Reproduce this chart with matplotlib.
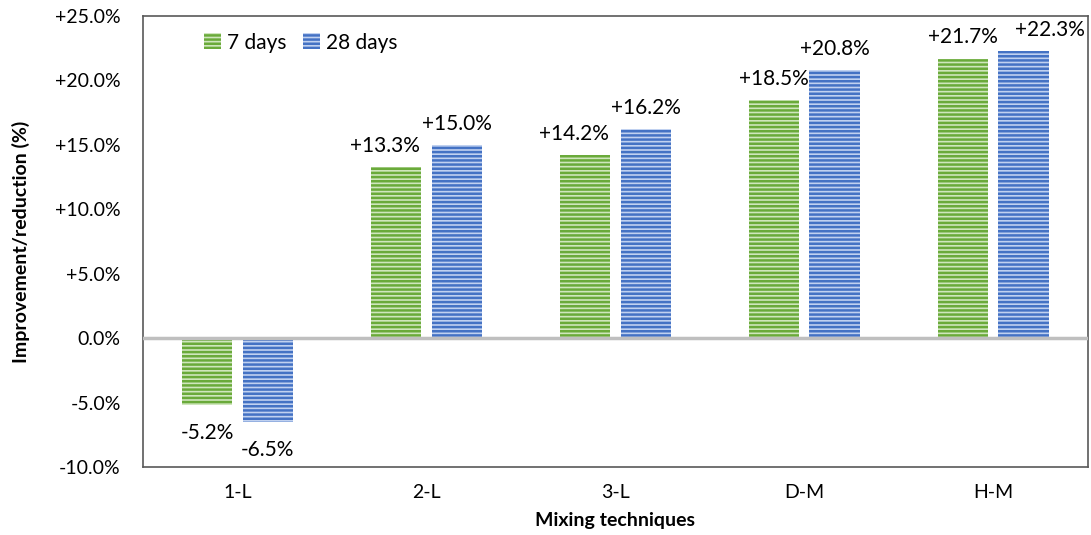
import numpy as np
import matplotlib.pyplot as plt
import matplotlib as mpl

plt.rcParams['font.family'] = ['Lato', 'DejaVu Sans']
mpl.rcParams['hatch.linewidth'] = 1.8

# data
techniques = ['1-L', '2-L', '3-L', 'D-M', 'H-M']
days7 = [-5.2, 13.3, 14.2, 18.5, 21.7]
days28 = [-6.5, 15.0, 16.2, 20.8, 22.3]
yticks = [-10, -5, 0, 5, 10, 15, 20, 25]

# label nudges (points), like the original chart
nudge7 = [0, -8, -8, 0, 0]
nudge28 = [0, 0, 0, 0, 19]

x = np.arange(len(techniques))
w = 0.265
off = 0.16

fig = plt.figure(figsize=(10.91, 5.35), dpi=100)
ax = fig.add_axes([0.131, 0.127, 0.866, 0.843])

ax.bar(x - off, days7, w, color='#cfe6bd', edgecolor='#6aaa3a', linewidth=0,
       hatch='----', label='7 days')
ax.bar(x + off, days28, w, color='#c0d1f0', edgecolor='#4472c4', linewidth=0,
       hatch='----', label='28 days')

def fmt(v):
    return ('+%.1f%%' % v) if v > 0 else ('%.1f%%' % v)

def put_labels(xs, vals, nudges):
    for xi, v, dx in zip(xs, vals, nudges):
        if v > 0:
            ax.annotate(fmt(v), (xi, v), xytext=(dx, 8), textcoords='offset points',
                        ha='center', va='bottom', fontsize=15)
        else:
            ax.annotate(fmt(v), (xi, v), xytext=(dx, -13), textcoords='offset points',
                        ha='center', va='top', fontsize=15)

put_labels(x - off, days7, nudge7)
put_labels(x + off, days28, nudge28)

ax.axhline(0, color='#bfbfbf', linewidth=2.5, zorder=3)
ax.set_ylim(-10, 25)
ax.set_xlim(-0.5, 4.5)
ax.set_yticks(yticks)
ax.set_yticklabels([fmt(t) if t != 0 else '0.0%' for t in yticks], fontsize=14)
ax.set_xticks(x)
ax.set_xticklabels(techniques, fontsize=14)
ax.tick_params(axis='y', length=0, pad=16)
ax.tick_params(axis='x', length=0, pad=12)
for s in ax.spines.values():
    s.set_color('#595959')
    s.set_linewidth(1.2)

ax.set_xlabel('Mixing techniques', fontsize=14, fontweight='bold', labelpad=8)
ax.set_ylabel('Improvement/reduction (%)', fontsize=14, fontweight='bold', labelpad=18)
ax.legend(loc='upper left', bbox_to_anchor=(0.045, 1.005), ncol=2, frameon=False,
          fontsize=15, handlelength=0.8, handleheight=0.8, columnspacing=0.8,
          handletextpad=0.3)

fig.savefig('out.png', dpi=100)
